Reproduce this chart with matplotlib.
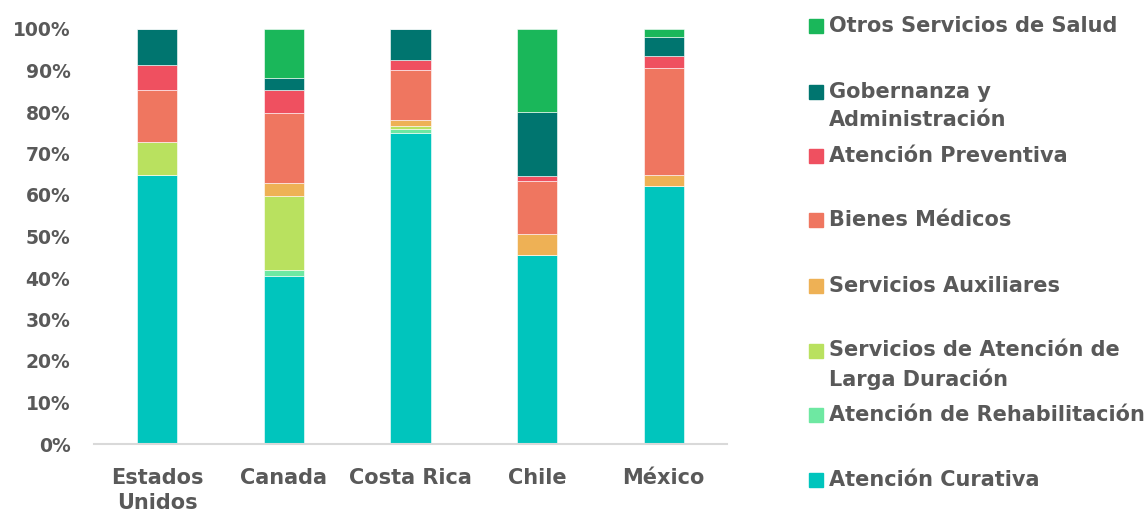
import matplotlib.pyplot as plt
import numpy as np
from matplotlib.patches import Rectangle

countries = ["Estados\nUnidos", "Canada", "Costa Rica", "Chile", "México"]

# shares in % (bottom to top)
curativa = [64.7, 40.6, 75.0, 45.5, 62.2]
rehabilitacion = [0.0, 1.4, 1.0, 0.0, 0.0]
larga_duracion = [8.1, 17.8, 0.6, 0.0, 0.0]
auxiliares = [0.0, 3.2, 1.4, 5.1, 2.5]
bienes_medicos = [12.4, 16.7, 12.1, 12.7, 25.8]
preventiva = [6.1, 5.5, 2.4, 1.3, 3.0]
gobernanza = [8.7, 3.1, 7.5, 15.5, 4.5]
otros = [0.0, 11.7, 0.0, 19.9, 2.0]

series = [
    ("Atención Curativa", curativa, "#00C5BD"),
    ("Atención de Rehabilitación", rehabilitacion, "#6EE8A2"),
    ("Servicios de Atención de\nLarga Duración", larga_duracion, "#B9E15F"),
    ("Servicios Auxiliares", auxiliares, "#EEB155"),
    ("Bienes Médicos", bienes_medicos, "#EF7660"),
    ("Atención Preventiva", preventiva, "#EF5060"),
    ("Gobernanza y\nAdministración", gobernanza, "#00756F"),
    ("Otros Servicios de Salud", otros, "#1AB75A"),
]

text_color = "#595959"
plt.rcParams['font.family'] = ['DejaVu Sans']
plt.rcParams['font.weight'] = 'bold'

fig = plt.figure(figsize=(11.46, 5.12), dpi=100)
ax = fig.add_axes([94 / 1146, 68 / 512, 633 / 1146, 415 / 512])

x = np.arange(len(countries))
bottom = np.zeros(len(countries))
for label, values, color in series:
    vals = np.array(values) / 100.0
    ax.bar(x, vals, width=0.316, bottom=bottom, color=color,
           edgecolor="white", linewidth=0.4)
    bottom += vals

ax.set_xlim(-0.5, len(countries) - 0.5)
ax.set_ylim(0, 1)
ax.set_yticks(np.arange(0, 1.01, 0.1))
ax.set_yticklabels([f"{int(round(v * 100))}%" for v in np.arange(0, 1.01, 0.1)])
ax.set_xticks(x)
ax.set_xticklabels(countries, linespacing=1.35)
ax.tick_params(axis="both", length=0, labelcolor=text_color)
ax.tick_params(axis="x", pad=17, labelsize=15)
ax.tick_params(axis="y", pad=17, labelsize=13.5)
for side in ["top", "right", "left"]:
    ax.spines[side].set_visible(False)
ax.spines["bottom"].set_color("#D9D9D9")
ax.spines["bottom"].set_linewidth(1.5)

# legend, drawn by hand to follow the original spacing
legend_rows = [480, 415, 365, 286, 220, 156, 106, 26]
for (label, values, color), ypix in zip(series, legend_rows):
    first_line = ypix if "\n" not in label else ypix - 14
    fig.patches.append(Rectangle((809 / 1146, 1 - (first_line + 7) / 512),
                                 14 / 1146, 14 / 512, color=color,
                                 transform=fig.transFigure, figure=fig))
    fig.text(829 / 1146, 1 - ypix / 512, label, fontsize=15, color=text_color,
             va="center", ha="left", linespacing=1.5)

fig.savefig("out.png", dpi=100)
